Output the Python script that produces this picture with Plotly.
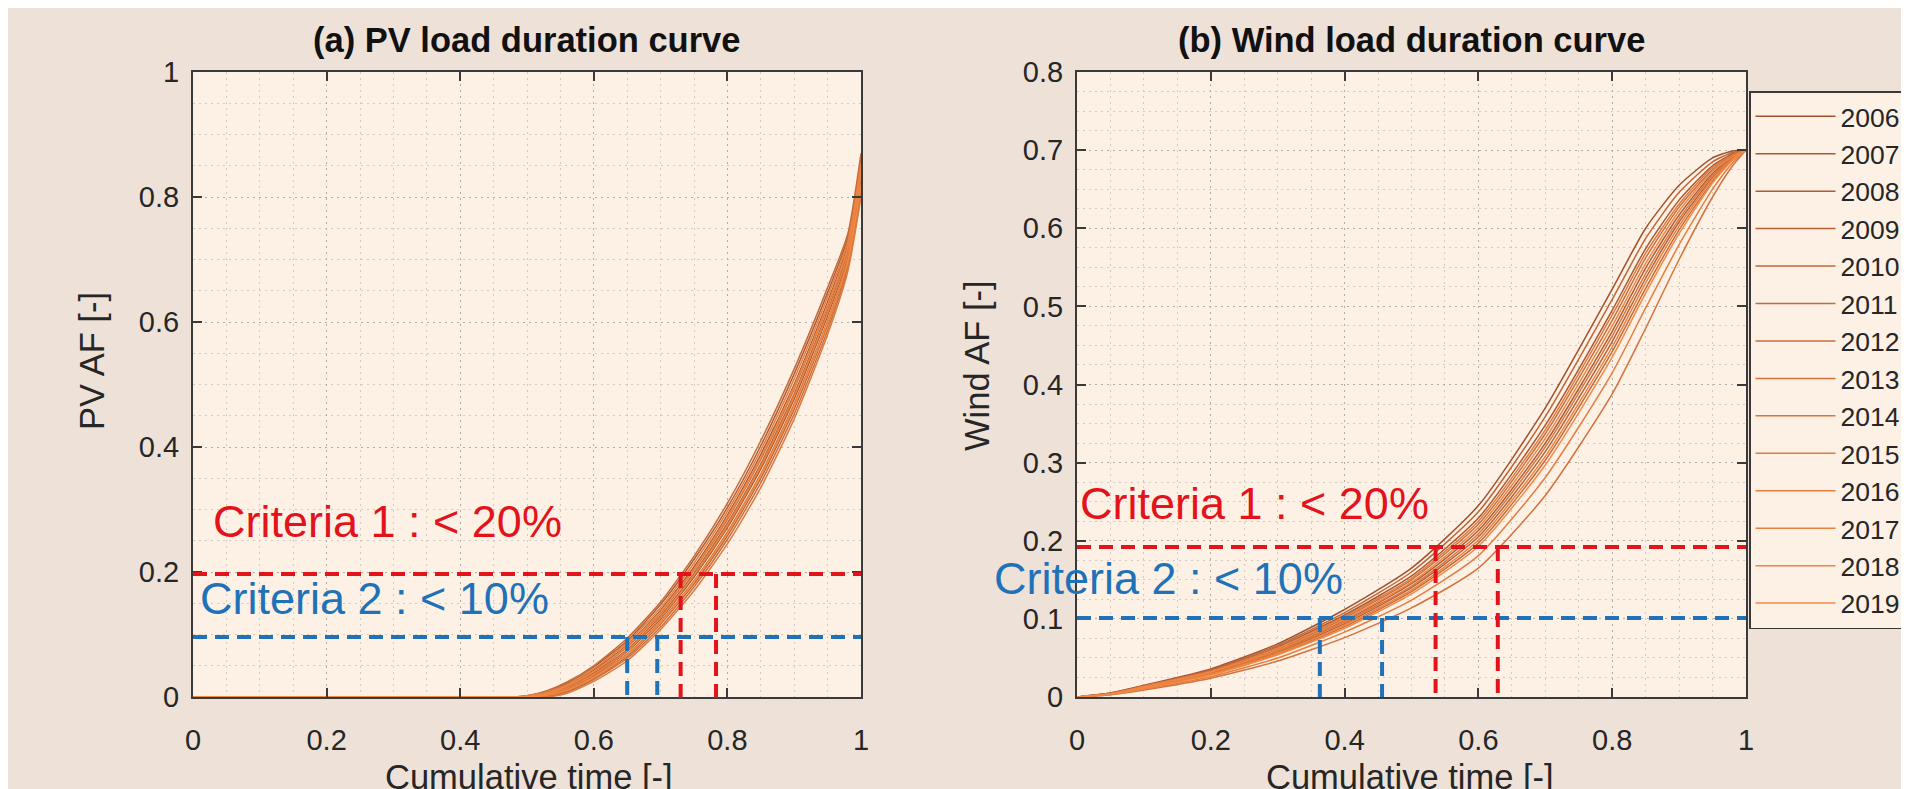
import plotly.graph_objects as go

years = [str(y) for y in range(2006, 2020)]
colors = ['#A0522D', '#A9582F', '#B05C32', '#B86134', '#BF6536', '#C66A38', '#CD6E3A',
          '#D3723B', '#D9763D', '#DF7A3E', '#E47E40', '#E98241', '#EE8643', '#F28A45']

# PV load duration curves (cumulative time vs AF)
pv_x = [0, 0.48, 0.5, 0.53, 0.56, 0.6, 0.65, 0.7, 0.75, 0.8, 0.85, 0.9, 0.95, 0.98, 1.0]
pv_2006 = [0, 0, 0.001, 0.007, 0.019, 0.043, 0.083, 0.139, 0.208, 0.291, 0.388, 0.500, 0.632, 0.722, 0.850]
pv_2007 = [0, 0, 0.001, 0.004, 0.013, 0.035, 0.073, 0.125, 0.192, 0.271, 0.365, 0.477, 0.610, 0.704, 0.830]
pv_2008 = [0, 0, 0.002, 0.009, 0.022, 0.048, 0.090, 0.148, 0.220, 0.303, 0.402, 0.517, 0.647, 0.734, 0.860]
pv_2009 = [0, 0, 0, 0.002, 0.010, 0.030, 0.065, 0.117, 0.181, 0.258, 0.350, 0.461, 0.595, 0.692, 0.815]
pv_2010 = [0, 0, 0.001, 0.005, 0.015, 0.038, 0.076, 0.130, 0.198, 0.278, 0.373, 0.485, 0.618, 0.710, 0.840]
pv_2011 = [0, 0, 0.002, 0.010, 0.024, 0.050, 0.094, 0.152, 0.225, 0.310, 0.410, 0.525, 0.655, 0.740, 0.870]
pv_2012 = [0, 0, 0, 0.001, 0.008, 0.028, 0.062, 0.112, 0.176, 0.252, 0.343, 0.453, 0.587, 0.686, 0.805]
pv_2013 = [0, 0, 0.001, 0.006, 0.017, 0.040, 0.080, 0.134, 0.203, 0.284, 0.380, 0.493, 0.625, 0.716, 0.845]
pv_2014 = [0, 0, 0, 0.003, 0.011, 0.033, 0.069, 0.121, 0.186, 0.264, 0.357, 0.469, 0.602, 0.698, 0.822]
pv_2015 = [0, 0, 0, 0, 0.006, 0.025, 0.058, 0.108, 0.170, 0.245, 0.335, 0.445, 0.580, 0.680, 0.800]
pv_2016 = [0, 0, 0.002, 0.008, 0.020, 0.045, 0.087, 0.143, 0.214, 0.297, 0.395, 0.509, 0.640, 0.728, 0.855]
pv_2017 = [0, 0, 0.001, 0.005, 0.014, 0.036, 0.074, 0.127, 0.195, 0.274, 0.369, 0.481, 0.614, 0.707, 0.835]
pv_2018 = [0, 0, 0.001, 0.006, 0.018, 0.041, 0.082, 0.137, 0.205, 0.288, 0.384, 0.497, 0.628, 0.719, 0.848]
pv_2019 = [0, 0, 0, 0.003, 0.011, 0.031, 0.067, 0.119, 0.184, 0.261, 0.354, 0.465, 0.598, 0.695, 0.818]
pv_series = [pv_2006, pv_2007, pv_2008, pv_2009, pv_2010, pv_2011, pv_2012,
             pv_2013, pv_2014, pv_2015, pv_2016, pv_2017, pv_2018, pv_2019]

# Wind load duration curves
wind_x = [0, 0.05, 0.1, 0.2, 0.3, 0.4, 0.5, 0.6, 0.7, 0.8, 0.85, 0.9, 0.95, 0.98, 1.0]
wind_2006 = [0, 0.005, 0.015, 0.036, 0.068, 0.112, 0.165, 0.245, 0.370, 0.522, 0.600, 0.655, 0.690, 0.699, 0.700]
wind_2007 = [0, 0.004, 0.014, 0.034, 0.064, 0.105, 0.155, 0.229, 0.348, 0.495, 0.574, 0.636, 0.680, 0.695, 0.700]
wind_2008 = [0, 0.004, 0.013, 0.031, 0.059, 0.098, 0.145, 0.213, 0.325, 0.468, 0.549, 0.617, 0.670, 0.691, 0.700]
wind_2009 = [0, 0.004, 0.012, 0.030, 0.057, 0.094, 0.140, 0.205, 0.314, 0.455, 0.536, 0.608, 0.665, 0.690, 0.700]
wind_2010 = [0, 0.005, 0.014, 0.035, 0.066, 0.108, 0.160, 0.237, 0.359, 0.509, 0.587, 0.646, 0.685, 0.697, 0.700]
wind_2011 = [0, 0.004, 0.011, 0.029, 0.055, 0.090, 0.135, 0.197, 0.303, 0.442, 0.523, 0.598, 0.660, 0.688, 0.700]
wind_2012 = [0, 0.004, 0.013, 0.032, 0.061, 0.101, 0.150, 0.221, 0.337, 0.482, 0.562, 0.627, 0.675, 0.693, 0.700]
wind_2013 = [0, 0.003, 0.009, 0.024, 0.046, 0.076, 0.114, 0.165, 0.258, 0.388, 0.472, 0.560, 0.640, 0.680, 0.700]
wind_2014 = [0, 0.004, 0.012, 0.031, 0.058, 0.096, 0.142, 0.209, 0.320, 0.462, 0.542, 0.612, 0.668, 0.690, 0.700]
wind_2015 = [0, 0.004, 0.014, 0.033, 0.063, 0.103, 0.152, 0.225, 0.342, 0.489, 0.568, 0.631, 0.678, 0.694, 0.700]
wind_2016 = [0, 0.003, 0.010, 0.026, 0.050, 0.083, 0.124, 0.181, 0.281, 0.415, 0.498, 0.579, 0.650, 0.684, 0.700]
wind_2017 = [0, 0.004, 0.012, 0.029, 0.056, 0.092, 0.137, 0.201, 0.308, 0.448, 0.530, 0.603, 0.663, 0.689, 0.700]
wind_2018 = [0, 0.004, 0.013, 0.032, 0.060, 0.099, 0.147, 0.217, 0.331, 0.475, 0.555, 0.622, 0.673, 0.692, 0.700]
wind_2019 = [0, 0.004, 0.011, 0.028, 0.054, 0.088, 0.132, 0.193, 0.297, 0.435, 0.517, 0.593, 0.658, 0.687, 0.700]
wind_series = [wind_2006, wind_2007, wind_2008, wind_2009, wind_2010, wind_2011, wind_2012,
               wind_2013, wind_2014, wind_2015, wind_2016, wind_2017, wind_2018, wind_2019]

# Criteria guide lines
pv_level_red = 0.197
pv_level_blue = 0.096
pv_red_x = [0.730, 0.783]
pv_blue_x = [0.650, 0.695]
wind_level_red = 0.192
wind_level_blue = 0.101
wind_red_x = [0.536, 0.629]
wind_blue_x = [0.363, 0.456]

crit1_text = "Criteria 1 : < 20%"
crit2_text = "Criteria 2 : < 10%"

pv_range = [0, 1]
wind_range = [0, 0.8]

RED = '#E3131B'
BLUE = '#1F72B8'
FONT = 'Liberation Sans, Arial, sans-serif'
PAPER = '#EEE2D8'
PLOTBG = '#FDF1E6'
DASH = '14px,8px'

W, H = 1909, 789

fig = go.Figure()

for yr, col, ys in zip(years, colors, pv_series):
    fig.add_trace(go.Scatter(x=pv_x, y=ys, mode='lines', name=yr, showlegend=False,
                             line=dict(color=col, width=1.5, shape='spline', smoothing=0.6),
                             xaxis='x', yaxis='y'))
for yr, col, ys in zip(years, colors, wind_series):
    fig.add_trace(go.Scatter(x=wind_x, y=ys, mode='lines', name=yr, showlegend=True,
                             line=dict(color=col, width=1.5, shape='spline', smoothing=0.6),
                             xaxis='x2', yaxis='y2'))

shapes = []
def hline(level, color, xr, yr):
    shapes.append(dict(type='line', xref=xr, yref=yr, x0=0, x1=1, y0=level, y1=level,
                       line=dict(color=color, width=4, dash=DASH), layer='above'))
def vline(xv, top, color, xr, yr):
    shapes.append(dict(type='line', xref=xr, yref=yr, x0=xv, x1=xv, y0=top, y1=0,
                       line=dict(color=color, width=4, dash=DASH), layer='above'))

hline(pv_level_red, RED, 'x', 'y')
hline(pv_level_blue, BLUE, 'x', 'y')
# red drop lines on the PV panel overshoot the x axis slightly (drawn in y-domain units)
pv_span = pv_range[1] - pv_range[0]
for xv in pv_red_x:
    shapes.append(dict(type='line', xref='x', yref='y domain', x0=xv, x1=xv,
                       y0=(pv_level_red - pv_range[0]) / pv_span, y1=-0.013,
                       line=dict(color=RED, width=4, dash=DASH), layer='above'))
for xv in pv_blue_x:
    vline(xv, pv_level_blue, BLUE, 'x', 'y')
hline(wind_level_red, RED, 'x2', 'y2')
hline(wind_level_blue, BLUE, 'x2', 'y2')
for xv in wind_red_x:
    vline(xv, wind_level_red, RED, 'x2', 'y2')
for xv in wind_blue_x:
    vline(xv, wind_level_blue, BLUE, 'x2', 'y2')

dom_y = [1 - 689 / H, 1 - 64 / H]
dom_x1 = [185 / W, 853 / W]
dom_x2 = [1069 / W, 1738 / W]

def axis_style(dom, dtick, minor_dtick, rng, anchor, label_standoff):
    return dict(domain=dom, range=rng, dtick=dtick, tick0=0, anchor=anchor,
                showline=True, mirror='ticks', linecolor='#3A3A3A', linewidth=2,
                ticks='inside', ticklen=9, tickwidth=1.5, tickcolor='#3A3A3A',
                tickfont=dict(family=FONT, size=29, color='#262626'),
                showgrid=True, gridcolor='#B5ADA5', gridwidth=1, griddash='2px,4px',
                minor=dict(dtick=minor_dtick, tick0=0, showgrid=True, gridcolor='#D3CAC1',
                           gridwidth=1, griddash='2px,4px', ticks=''),
                zeroline=False, fixedrange=True, automargin=False,
                ticklabelstandoff=label_standoff)

TITLE_FONT = dict(family=FONT, size=34.5, color='#111111')
AX_FONT = dict(family=FONT, size=34.5, color='#262626')

annotations = [
    dict(text='<b>(a) PV load duration curve</b>', x=519 / W, y=1 - 32 / H, xref='paper', yref='paper',
         showarrow=False, xanchor='center', yanchor='middle', font=TITLE_FONT),
    dict(text='<b>(b) Wind load duration curve</b>', x=1403.5 / W, y=1 - 32 / H, xref='paper', yref='paper',
         showarrow=False, xanchor='center', yanchor='middle', font=TITLE_FONT),
    dict(text='Cumulative time [-]', x=521 / W, y=1 - 769 / H, xref='paper', yref='paper',
         showarrow=False, xanchor='center', yanchor='middle', font=AX_FONT),
    dict(text='Cumulative time [-]', x=1402 / W, y=1 - 769 / H, xref='paper', yref='paper',
         showarrow=False, xanchor='center', yanchor='middle', font=AX_FONT),
    dict(text='PV AF [-]', x=84 / W, y=1 - 353 / H, xref='paper', yref='paper', textangle=-90,
         showarrow=False, xanchor='center', yanchor='middle', font=AX_FONT),
    dict(text='Wind AF [-]', x=969 / W, y=1 - 358 / H, xref='paper', yref='paper', textangle=-90,
         showarrow=False, xanchor='center', yanchor='middle', font=AX_FONT),
    dict(text=crit1_text, x=0.027, y=0.2816, xref='x', yref='y', showarrow=False,
         xanchor='left', yanchor='middle', font=dict(family=FONT, size=45, color=RED)),
    dict(text=crit2_text, x=0.007, y=0.158, xref='x', yref='y', showarrow=False,
         xanchor='left', yanchor='middle', font=dict(family=FONT, size=45, color=BLUE)),
    dict(text=crit1_text, x=0.002, y=0.248, xref='x2', yref='y2', showarrow=False,
         xanchor='left', yanchor='middle', font=dict(family=FONT, size=45, color=RED)),
    dict(text=crit2_text, x=984 / W, y=1 - 570 / H, xref='paper', yref='paper', showarrow=False,
         xanchor='left', yanchor='middle', font=dict(family=FONT, size=45, color=BLUE)),
]

fig.update_layout(
    width=W, height=H,
    margin=dict(l=0, r=0, t=0, b=0),
    paper_bgcolor=PAPER, plot_bgcolor=PLOTBG,
    xaxis=axis_style(dom_x1, 0.2, 0.05, pv_range, 'y', 16),
    yaxis=axis_style(dom_y, 0.2, 0.05, pv_range, 'x', 6),
    xaxis2=axis_style(dom_x2, 0.2, 0.05, [0, 1], 'y2', 16),
    yaxis2=axis_style(dom_y, 0.1, 0.025, wind_range, 'x2', 6),
    shapes=shapes,
    annotations=annotations,
    showlegend=True,
    legend=dict(x=1741 / W, y=1 - 83 / H, xanchor='left', yanchor='top',
                bgcolor=PLOTBG, bordercolor='#3A3A3A', borderwidth=1.5,
                font=dict(family=FONT, size=26.5, color='#262626'),
                itemwidth=80, tracegroupgap=0),
    font=dict(family=FONT),
)

fig.write_html('out.html')
